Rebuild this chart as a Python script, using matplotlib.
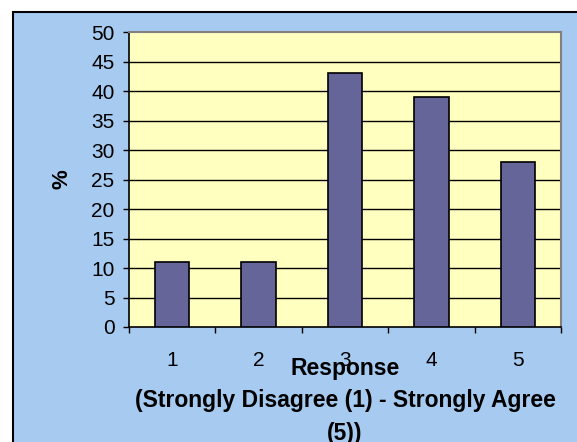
import numpy as np
import matplotlib
matplotlib.use("Agg")
import matplotlib.pyplot as plt
from matplotlib.patches import Rectangle

# survey results
responses = ["1", "2", "3", "4", "5"]
percent = [11, 11, 43, 39, 28]
yticks = [0, 5, 10, 15, 20, 25, 30, 35, 40, 45, 50]

plt.rcParams['font.family'] = ['Liberation Sans', 'DejaVu Sans']

fig = plt.figure(figsize=(5.77, 4.42), dpi=100)
fig.patch.set_facecolor("white")

# chart area background with black frame
bg = Rectangle((13/577, -0.5), 2, 1.5 - 12/442, transform=fig.transFigure,
               facecolor="#a6caf0", edgecolor="black", linewidth=1.5, zorder=-1)
fig.patches.append(bg)

ax = fig.add_axes([129/577, 1 - 327/442, 432/577, 295/442])
ax.set_facecolor("#ffffc0")

x = np.arange(len(responses))
ax.bar(x, percent, width=0.4, color="#656599", edgecolor="black", linewidth=1.2, zorder=3)

ax.set_xlim(-0.5, len(responses) - 0.5)
ax.set_ylim(0, 50)
ax.set_yticks(yticks)
ax.tick_params(axis="y", direction="out", length=4.5, width=1, pad=6, labelsize=15)

# category labels centred, tick marks on the boundaries
ax.set_xticks(x)
ax.set_xticklabels(responses)
ax.set_xticks(np.arange(-0.5, len(responses)), minor=True)
ax.tick_params(axis="x", which="major", length=0, pad=17, labelsize=15)
ax.tick_params(axis="x", which="minor", direction="out", length=4.5, width=1)

for y in yticks[1:-1]:
    ax.axhline(y, color="black", linewidth=1, zorder=1)

for side in ["top", "right"]:
    ax.spines[side].set_color("#808080")
    ax.spines[side].set_linewidth(1.5)
for side in ["left", "bottom"]:
    ax.spines[side].set_color("black")
    ax.spines[side].set_linewidth(1.2)

ax.set_ylabel("%", fontsize=16, fontweight="bold")
ax.yaxis.set_label_coords(-0.13, 0.5)
ax.set_xlabel("Response\n(Strongly Disagree (1) - Strongly Agree\n(5))",
              fontsize=16.5, fontweight="bold", linespacing=1.55)
ax.xaxis.set_label_coords(0.5, -0.1)

fig.savefig("out.png", dpi=100, facecolor=fig.get_facecolor())
